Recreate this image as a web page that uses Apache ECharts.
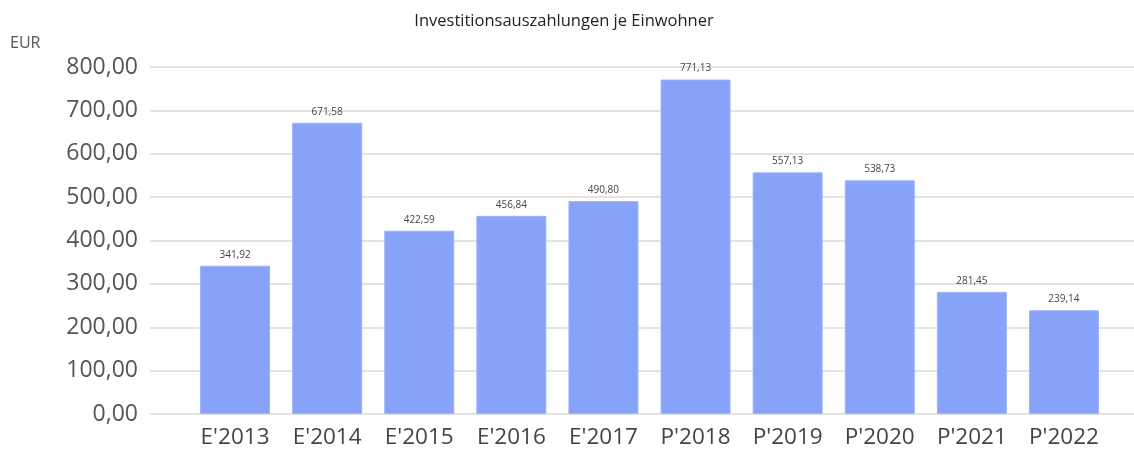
<!DOCTYPE html>
<html><head><meta charset="utf-8">
<script src="https://cdn.jsdelivr.net/npm/echarts@6/dist/echarts.min.js"></script>
<style>html,body{margin:0;padding:0;background:#fff}#c{width:1134px;height:450px}</style>
</head><body><div id="c"></div>
<script>
const categories = ["E'2013","E'2014","E'2015","E'2016","E'2017","P'2018","P'2019","P'2020","P'2021","P'2022"];
const values = [341.92, 671.58, 422.59, 456.84, 490.80, 771.13, 557.13, 538.73, 281.45, 239.14];
const chartTitle = "Investitionsauszahlungen je Einwohner";
const unitLabel = "EUR";

const fmt = v => v.toFixed(2).replace('.', ',');
const font = "'Open Sans', sans-serif";
const chart = echarts.init(document.getElementById('c'));
chart.setOption({
  animation: false,
  title: { text: chartTitle, left: 559, top: 8, textAlign: 'center',
    textStyle: { fontFamily: font, fontSize: 16.5, fontWeight: 'normal', color: '#222' } },
  graphic: [{ type: 'text', left: 10, top: 35, style: { text: unitLabel, font: "16px 'Open Sans', sans-serif", fill: '#555' } }],
  grid: [
    { left: 150, right: 0, top: 67, bottom: 36 },
    { left: 189, right: 24, top: 67, bottom: 36 }
  ],
  xAxis: [
    { gridIndex: 0, type: 'value', show: false, min: 0, max: 1 },
    { gridIndex: 1, type: 'category', data: categories,
      axisLine: { show: false }, axisTick: { show: false },
      axisLabel: { margin: 12, fontFamily: font, fontSize: 22.5, color: '#444' } }
  ],
  yAxis: [
    { gridIndex: 0, type: 'value', min: 0, max: 800, interval: 100,
      axisLine: { show: false }, axisTick: { show: false },
      splitLine: { lineStyle: { color: '#dadada', width: 1.5 } },
      axisLabel: { margin: 12, fontFamily: font, fontSize: 23, color: '#555', formatter: v => fmt(v) } },
    { gridIndex: 1, type: 'value', min: 0, max: 800, show: false }
  ],
  series: [{
    type: 'bar', xAxisIndex: 1, yAxisIndex: 1, data: values, barWidth: 70,
    itemStyle: { color: '#87a2f9', borderColor: '#9db3fa', borderWidth: 1 },
    label: { show: true, position: 'top', distance: 6, fontFamily: font, fontSize: 10, color: '#444', formatter: p => fmt(p.value) }
  }]
});
</script></body></html>
